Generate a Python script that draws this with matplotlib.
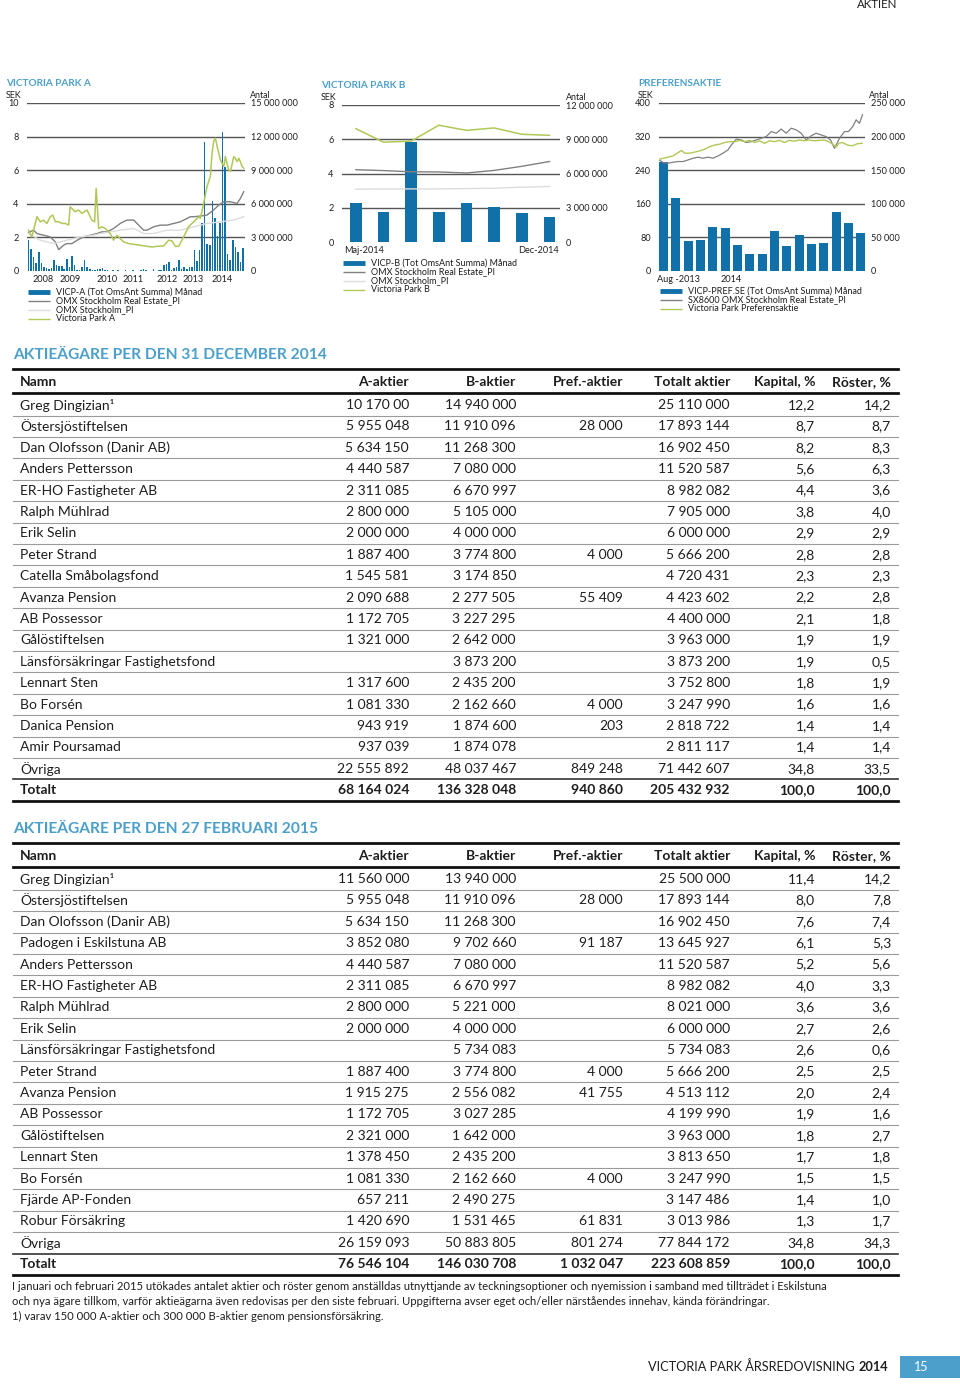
import matplotlib.pyplot as plt
import numpy as np

plt.rcParams['font.family'] = ['Lato', 'DejaVu Sans']

BLUE = '#1270a8'
TITLE = '#4c9fcb'
GREEN = '#b0c855'
DGRAY = '#808080'
LGRAY = '#dcdcdc'
GRID = '#555555'
TXT = '#1e1e1e'

# ---- Victoria Park A (monthly, 2008-2014) ----
a_bars = [2750000, 1950000, 1260000, 720000, 1700000, 720000, 360000, 270000, 210000, 300000,
          960000, 500000, 420000, 480000, 210000, 1100000, 360000, 1300000, 570000, 120000,
          80000, 360000, 960000, 360000, 200000, 100000, 120000, 200000, 150000, 250000,
          100000, 60000, 40000, 80000, 30000, 60000, 40000, 30000, 50000, 40000,
          30000, 60000, 40000, 30000, 50000, 200000, 60000, 40000, 30000, 200000,
          40000, 60000, 100000, 500000, 660000, 800000, 100000, 300000, 350000, 960000,
          150000, 400000, 200000, 400000, 400000, 1900000, 900000, 1850000, 4300000, 11500000,
          2400000, 2300000, 6250000, 4750000, 3100000, 4300000, 12450000, 9300000, 1500000, 960000,
          2800000, 2150000, 1700000, 800000, 2050000]
a_park_m = [0, 1.3, 3.3, 4.6, 5.9, 7.2, 8.5, 9.5, 10.5, 11.8, 13.1, 14.4, 15.7, 16.3, 17.6, 18.3,
            19.6, 20.9, 22.9, 24.8, 25.9, 26.5, 27.5, 28.8, 30.1, 32, 33.3, 34.6, 35.9, 37.3,
            39.2, 41.2, 43.8, 46.4, 48.4, 50.3, 52.9, 54.9, 56.2, 57.5, 58.8, 60.1, 61.4, 62.7,
            64.7, 66.7, 67.3, 68.6, 69.9, 71.2, 71.9, 72.5, 73.2, 73.9, 75.2, 75.8, 76.5, 77.1,
            78.4, 79.1, 80.4, 81, 81.7, 82.4, 83.7, 84.3]
a_park = [2.43, 2.03, 3.23, 2.93, 3.03, 2.83, 3.23, 3.33, 2.93, 2.93, 2.83, 2.83, 2.73, 3.82, 3.63, 3.53,
          3.63, 3.43, 3.63, 3.03, 2.93, 4.92, 2.53, 2.63, 2.53, 2.23, 1.83, 2.13, 1.93, 1.73,
          1.63, 1.59, 1.53, 1.47, 1.43, 1.47, 1.49, 1.83, 1.79, 1.47, 1.47, 1.83, 2.23, 2.63,
          2.93, 3.23, 3.13, 4.02, 5.02, 5.62, 7.01, 7.71, 7.91, 7.41, 6.61, 6.41, 6.22, 6.81,
          6.02, 5.92, 6.81, 6.71, 6.51, 6.71, 6.22, 6.12]
a_re_m = [0, 2, 3.3, 5.9, 8.5, 10.5, 11.8, 13.7, 15, 17, 19, 21.6, 24.2, 26.8, 28.8, 30.7, 33.3,
          35.9, 38.5, 41.2, 42.5, 43.8, 45.1, 46.4, 49, 51.6, 54.2, 56.9, 59.5, 62.1, 63.4, 64.7,
          67.3, 69.9, 72.5, 74.5, 76.5, 79.1, 81.7, 83, 84.3]
a_re = [2.3, 2.43, 2.23, 2.13, 2.03, 1.73, 1.27, 1.53, 1.63, 1.63, 1.83, 2.03, 2.13, 2.23, 2.33, 2.33,
        2.53, 2.83, 3.03, 3.03, 2.83, 2.63, 2.43, 2.43, 2.63, 2.73, 2.73, 2.83, 2.93, 3.13, 3.23,
        3.23, 3.27, 3.33, 3.63, 3.92, 4.12, 4.12, 4.02, 4.32, 4.72]
a_omx_m = [0, 4.6, 9.8, 15, 20.3, 25.5, 28.1, 32, 35.9, 41.2, 45.1, 49, 54.2, 59.5, 64.7, 69.9,
           75.2, 80.4, 84.3]
a_omx = [2.23, 1.83, 1.63, 1.83, 2.03, 2.13, 2.23, 2.33, 2.43, 2.53, 2.23, 2.23, 2.43, 2.43, 2.63,
         2.83, 2.93, 3.03, 3.23]
a_years = ['2008', '2009', '2010', '2011', '2012', '2013', '2014']
a_year_pos = [5.8, 16.3, 30.8, 41, 54.4, 64.6, 75.9]

# ---- Victoria Park B (maj-dec 2014) ----
b_bars = [3390000, 2650000, 8750000, 2620000, 3390000, 3090000, 2560000, 2150000]
b_park = [6.62, 5.83, 5.89, 6.82, 6.52, 6.66, 6.29, 6.23]
b_re = [4.22, 4.17, 4.10, 4.09, 4.03, 4.18, 4.42, 4.70]
b_omx = [3.08, 3.10, 3.10, 3.10, 3.12, 3.14, 3.20, 3.24]
b_xlabels = ['Maj-2014', 'Dec-2014']

# ---- Preferensaktie (aug 2013 - dec 2014) ----
c_bars = [162900, 108000, 44300, 45800, 66200, 64700, 38300, 25900, 25900, 58800, 36900,
          54300, 39800, 41800, 87600, 71700, 56800]
c_park_x = [-0.35, 0, 0.38, 0.78, 1.19, 1.46, 1.73, 2.13, 2.53, 2.94, 3.34, 3.75, 4.15, 4.56,
            4.96, 5.36, 5.77, 6.17, 6.58, 6.98, 7.39, 7.79, 8.19, 8.6, 9.0, 9.4, 9.8, 10.2,
            10.6, 11.0, 11.4, 11.8, 12.2, 12.6, 13.0, 13.4, 13.8, 14.0, 14.2, 14.5, 14.9, 15.3,
            15.7, 16.1]
c_park = [266, 268.5, 271, 274, 282, 287, 280.5, 280.5, 283, 286, 290, 296, 300, 302, 306, 308,
          308, 311, 308, 311, 306, 310, 304, 310, 308, 311, 306, 311, 309, 312, 310, 312, 310,
          311, 312, 308, 300, 295, 304, 306, 300, 298, 303, 304]
c_re_x = [-0.35, 0, 0.38, 0.78, 1.19, 1.59, 2.0, 2.4, 2.8, 3.2, 3.61, 4.02, 4.42, 4.82, 5.23,
          5.5, 5.9, 6.31, 6.71, 7.12, 7.52, 7.92, 8.33, 8.73, 9.14, 9.54, 9.95, 10.35, 10.76,
          11.16, 11.56, 11.97, 12.37, 12.78, 13.18, 13.54, 13.86, 14.26, 14.67, 14.99, 15.34,
          15.61, 15.88, 16.13]
c_re = [264.5, 258, 256.6, 259, 260.6, 260.6, 264.5, 268.5, 271, 268.5, 271, 268.5, 274, 280.5,
        288.4, 300, 314, 312, 306, 308, 312, 316, 320, 332, 328, 338, 328, 340, 336, 328, 312,
        322, 328, 324, 320, 312, 292, 316, 332, 332, 344, 360, 351.5, 372]
c_xlabels = ['Aug -2013', '2014']
c_xlabel_pos = [1.2, 5.5]

# ---- Aktieägare ----
cols = ['Namn', 'A-aktier', 'B-aktier', 'Pref.-aktier', 'Totalt aktier', 'Kapital, %', 'Röster, %']
owners_2014 = [
    ['Greg Dingizian¹', '10 170 00', '14 940 000', '', '25 110 000', '12,2', '14,2'],
    ['Östersjöstiftelsen', '5 955 048', '11 910 096', '28 000', '17 893 144', '8,7', '8,7'],
    ['Dan Olofsson (Danir AB)', '5 634 150', '11 268 300', '', '16 902 450', '8,2', '8,3'],
    ['Anders Pettersson', '4 440 587', '7 080 000', '', '11 520 587', '5,6', '6,3'],
    ['ER-HO Fastigheter AB', '2 311 085', '6 670 997', '', '8 982 082', '4,4', '3,6'],
    ['Ralph Mühlrad', '2 800 000', '5 105 000', '', '7 905 000', '3,8', '4,0'],
    ['Erik Selin', '2 000 000', '4 000 000', '', '6 000 000', '2,9', '2,9'],
    ['Peter Strand', '1 887 400', '3 774 800', '4 000', '5 666 200', '2,8', '2,8'],
    ['Catella Småbolagsfond', '1 545 581', '3 174 850', '', '4 720 431', '2,3', '2,3'],
    ['Avanza Pension', '2 090 688', '2 277 505', '55 409', '4 423 602', '2,2', '2,8'],
    ['AB Possessor', '1 172 705', '3 227 295', '', '4 400 000', '2,1', '1,8'],
    ['Gålöstiftelsen', '1 321 000', '2 642 000', '', '3 963 000', '1,9', '1,9'],
    ['Länsförsäkringar Fastighetsfond', '', '3 873 200', '', '3 873 200', '1,9', '0,5'],
    ['Lennart Sten', '1 317 600', '2 435 200', '', '3 752 800', '1,8', '1,9'],
    ['Bo Forsén', '1 081 330', '2 162 660', '4 000', '3 247 990', '1,6', '1,6'],
    ['Danica Pension', '943 919', '1 874 600', '203', '2 818 722', '1,4', '1,4'],
    ['Amir Poursamad', '937 039', '1 874 078', '', '2 811 117', '1,4', '1,4'],
    ['Övriga', '22 555 892', '48 037 467', '849 248', '71 442 607', '34,8', '33,5'],
]
total_2014 = ['Totalt', '68 164 024', '136 328 048', '940 860', '205 432 932', '100,0', '100,0']
owners_2015 = [
    ['Greg Dingizian¹', '11 560 000', '13 940 000', '', '25 500 000', '11,4', '14,2'],
    ['Östersjöstiftelsen', '5 955 048', '11 910 096', '28 000', '17 893 144', '8,0', '7,8'],
    ['Dan Olofsson (Danir AB)', '5 634 150', '11 268 300', '', '16 902 450', '7,6', '7,4'],
    ['Padogen i Eskilstuna AB', '3 852 080', '9 702 660', '91 187', '13 645 927', '6,1', '5,3'],
    ['Anders Pettersson', '4 440 587', '7 080 000', '', '11 520 587', '5,2', '5,6'],
    ['ER-HO Fastigheter AB', '2 311 085', '6 670 997', '', '8 982 082', '4,0', '3,3'],
    ['Ralph Mühlrad', '2 800 000', '5 221 000', '', '8 021 000', '3,6', '3,6'],
    ['Erik Selin', '2 000 000', '4 000 000', '', '6 000 000', '2,7', '2,6'],
    ['Länsförsäkringar Fastighetsfond', '', '5 734 083', '', '5 734 083', '2,6', '0,6'],
    ['Peter Strand', '1 887 400', '3 774 800', '4 000', '5 666 200', '2,5', '2,5'],
    ['Avanza Pension', '1 915 275', '2 556 082', '41 755', '4 513 112', '2,0', '2,4'],
    ['AB Possessor', '1 172 705', '3 027 285', '', '4 199 990', '1,9', '1,6'],
    ['Gålöstiftelsen', '2 321 000', '1 642 000', '', '3 963 000', '1,8', '2,7'],
    ['Lennart Sten', '1 378 450', '2 435 200', '', '3 813 650', '1,7', '1,8'],
    ['Bo Forsén', '1 081 330', '2 162 660', '4 000', '3 247 990', '1,5', '1,5'],
    ['Fjärde AP-Fonden', '657 211', '2 490 275', '', '3 147 486', '1,4', '1,0'],
    ['Robur Försäkring', '1 420 690', '1 531 465', '61 831', '3 013 986', '1,3', '1,7'],
    ['Övriga', '26 159 093', '50 883 805', '801 274', '77 844 172', '34,8', '34,3'],
]
total_2015 = ['Totalt', '76 546 104', '146 030 708', '1 032 047', '223 608 859', '100,0', '100,0']

notes = ['I januari och februari 2015 utökades antalet aktier och röster genom anställdas utnyttjande av '
         'teckningsoptioner och nyemission i samband med tillträdet i Eskilstuna',
         'och nya ägare tillkom, varför aktieägarna även redovisas per den siste februari. Uppgifterna avser '
         'eget och/eller närståendes innehav, kända förändringar.',
         '1) varav 150 000 A-aktier och 300 000 B-aktier genom pensionsförsäkring.']

W, H = 960, 1384
fig = plt.figure(figsize=(W / 100, H / 100), dpi=100)
page = fig.add_axes([0, 0, 1, 1])
page.set_xlim(0, W)
page.set_ylim(H, 0)
page.axis('off')


def px_axes(l, t, r, b):
    return fig.add_axes([l / W, 1 - b / H, (r - l) / W, (b - t) / H])


def fmt_antal(v):
    return '{:,}'.format(int(v)).replace(',', ' ')


def chart(box, title, sek_ticks, antal_max, xlim, bar_x, bar_h, bar_w, lines,
          xt, xl, head, legend, leg_y):
    ax = px_axes(*box)
    ax2 = ax.twinx()
    antal_ticks = np.linspace(0, antal_max, len(sek_ticks))
    for t in antal_ticks[1:]:
        ax2.axhline(t, color=GRID, lw=1.0, zorder=0)
    ax2.bar(bar_x, bar_h, width=bar_w, color=BLUE, lw=0, zorder=2)
    for x, y, c, lw in lines:
        ax.plot(x, y, color=c, lw=lw, solid_joinstyle='round')
    # lines on top of the bars
    ax.set_zorder(ax2.get_zorder() + 1)
    ax.patch.set_visible(False)
    ax.set_xlim(*xlim)
    ax.set_ylim(0, sek_ticks[-1])
    ax2.set_ylim(0, antal_max)
    ax.set_yticks(sek_ticks)
    ax.set_yticklabels([str(t) for t in sek_ticks])
    ax2.set_yticks(antal_ticks)
    ax2.set_yticklabels([fmt_antal(t) for t in antal_ticks])
    ax.set_xticks(xt)
    ax.set_xticklabels(xl)
    for a in (ax, ax2):
        for s in a.spines.values():
            s.set_visible(False)
        a.tick_params(length=0, labelsize=6.6, colors=TXT)
    ax.tick_params(axis='y', pad=6)
    ax2.tick_params(axis='y', pad=4)
    ax.tick_params(axis='x', pad=3)
    l, t, r, b = box
    page.text(l - 21, t - 19, title, color=TITLE, fontsize=7.2, fontweight='bold', va='center')
    page.text(l - 21, t - 8, 'SEK', color=TXT, fontsize=6.4, va='center')
    page.text(r + head, t - 8, 'Antal', color=TXT, fontsize=6.4, va='center')
    for i, (lab, c, lw) in enumerate(legend):
        y = leg_y + i * 8.9
        page.plot([l + 1, l + 23], [y, y], color=c, lw=lw, solid_capstyle='butt')
        page.text(l + 29, y, lab, color=TXT, fontsize=6.5, va='center')
    return ax


chart((27, 103, 245, 271), 'VICTORIA PARK A', [0, 2, 4, 6, 8, 10], 15000000, (-0.6, 84.8),
      np.arange(len(a_bars)), a_bars, 0.62,
      [(a_re_m, a_re, DGRAY, 1.0), (a_omx_m, a_omx, LGRAY, 1.0), (a_park_m, a_park, GREEN, 1.1)],
      a_year_pos, a_years, 5,
      [('VICP-A (Tot OmsAnt Summa) Månad', BLUE, 3.5), ('OMX Stockholm Real Estate_PI', DGRAY, 1.0),
       ('OMX Stockholm_PI', LGRAY, 1.0), ('Victoria Park A', GREEN, 1.0)], 292)

bx = np.arange(len(b_bars))
chart((342, 105, 560, 242), 'VICTORIA PARK B', [0, 2, 4, 6, 8], 12000000, (-0.5, 7.38),
      bx, b_bars, 0.43,
      [(bx, b_re, DGRAY, 1.0), (bx, b_omx, LGRAY, 1.0), (bx, b_park, GREEN, 1.1)],
      [0.3, 6.6], b_xlabels, 6,
      [('VICP-B (Tot OmsAnt Summa) Månad', BLUE, 3.5), ('OMX Stockholm Real Estate_PI', DGRAY, 1.0),
       ('OMX Stockholm_PI', LGRAY, 1.0), ('Victoria Park B', GREEN, 1.0)], 263)

chart((659, 103, 865, 271), 'PREFERENSAKTIE', [0, 80, 160, 240, 320, 400], 250000, (-0.36, 16.33),
      np.arange(len(c_bars)), c_bars, 0.72,
      [(c_re_x, c_re, DGRAY, 0.9), (c_park_x, c_park, GREEN, 1.0)],
      c_xlabel_pos, c_xlabels, 4,
      [('VICP-PREF.SE (Tot OmsAnt Summa) Månad', BLUE, 3.5),
       ('SX8600 OMX Stockholm Real Estate_PI', DGRAY, 1.0),
       ('Victoria Park Preferensaktie', GREEN, 1.0)], 291)

# ---- tables ----
col_x = [20, 409, 516, 623, 730, 815, 891]
STEP = 21.4


def table(y_title, title, rows, total):
    page.text(13, y_title, title, color=TITLE, fontsize=11.2, fontweight='bold', va='center')
    y_top = y_title + 14
    page.plot([13, 898], [y_top, y_top], color='#111111', lw=2.0)
    y_head = y_top + 13
    for j, c in enumerate(cols):
        page.text(col_x[j], y_head, c, fontsize=10, fontweight='bold', color=TXT,
                  ha='left' if j == 0 else 'right', va='center')
    page.plot([13, 898], [y_head + 11, y_head + 11], color='#111111', lw=2.0)
    y = y_head + 23
    for i, row in enumerate(rows):
        for j, v in enumerate(row):
            page.text(col_x[j], y, v, fontsize=10, color=TXT,
                      ha='left' if j == 0 else 'right', va='center')
        if i < len(rows) - 1:
            page.plot([13, 898], [y + STEP / 2, y + STEP / 2], color='#9a9a9a', lw=0.8)
        y += STEP
    page.plot([13, 898], [y - STEP / 2, y - STEP / 2], color='#333333', lw=1.2)
    for j, v in enumerate(total):
        page.text(col_x[j], y, v, fontsize=10, fontweight='bold', color=TXT,
                  ha='left' if j == 0 else 'right', va='center')
    page.plot([13, 898], [y + 11, y + 11], color='#111111', lw=2.0)


table(355, 'AKTIEÄGARE PER DEN 31 DECEMBER 2014', owners_2014, total_2014)
table(829, 'AKTIEÄGARE PER DEN 27 FEBRUARI 2015', owners_2015, total_2015)

for i, n in enumerate(notes):
    page.text(12, 1287 + i * 14.5, n, fontsize=8.1, color=TXT, va='center',
              family=['Liberation Sans Narrow', 'Lato', 'DejaVu Sans'])

# page furniture
page.text(897, 5, 'AKTIEN', fontsize=8.3, color=TXT, ha='right', va='center')
page.text(855, 1367, 'VICTORIA PARK ÅRSREDOVISNING', fontsize=9.2, color=TXT, ha='right', va='center')
page.text(859, 1367, '2014', fontsize=9.2, color=TXT, fontweight='bold', ha='left', va='center')
page.add_patch(plt.Rectangle((900, 1356), 60, 22, color=TITLE, lw=0))
page.text(921, 1367, '15', fontsize=9, color='white', ha='center', va='center')

fig.savefig('out.png', dpi=100)
